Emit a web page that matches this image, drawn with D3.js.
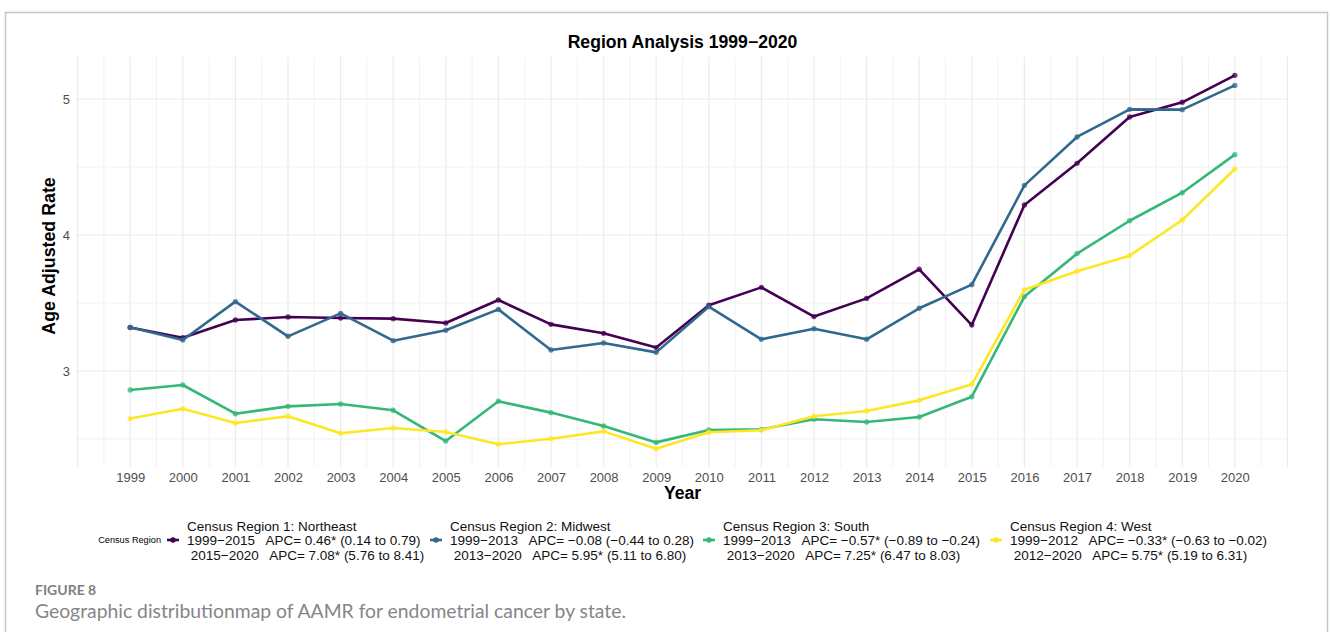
<!DOCTYPE html>
<html>
<head>
<meta charset="utf-8">
<script src="https://cdn.jsdelivr.net/npm/d3@7"></script>
<style>
  body { margin: 0; background: #fff; }
  svg { display: block; }
  text { font-family: "Liberation Sans", Arial, sans-serif; }
</style>
</head>
<body>
<div class="chart-container"></div>
<script>
// data
const years = [1999, 2000, 2001, 2002, 2003, 2004, 2005, 2006, 2007, 2008, 2009, 2010,
  2011, 2012, 2013, 2014, 2015, 2016, 2017, 2018, 2019, 2020]
const northeast = [3.32, 3.245, 3.375, 3.397, 3.39, 3.385, 3.353, 3.522, 3.343, 3.277, 3.172,
  3.483, 3.615, 3.40, 3.534, 3.748, 3.338, 4.221, 4.527, 4.868, 4.976, 5.174]
const midwest = [3.321, 3.228, 3.51, 3.255, 3.424, 3.223, 3.30, 3.453, 3.154, 3.206, 3.137,
  3.473, 3.233, 3.311, 3.233, 3.461, 3.635, 4.365, 4.721, 4.924, 4.922, 5.10]
const south = [2.86, 2.897, 2.686, 2.74, 2.757, 2.711, 2.485, 2.777, 2.694, 2.596, 2.475,
  2.566, 2.571, 2.645, 2.625, 2.662, 2.811, 3.547, 3.863, 4.105, 4.311, 4.591]
const west = [2.65, 2.723, 2.618, 2.667, 2.542, 2.581, 2.551, 2.461, 2.502, 2.556, 2.429,
  2.549, 2.564, 2.667, 2.706, 2.784, 2.902, 3.598, 3.733, 3.848, 4.11, 4.485]
const yTicks = [3, 4, 5]
const seriesNames = ["Census Region 1: Northeast", "Census Region 2: Midwest",
  "Census Region 3: South", "Census Region 4: West"]
const apcFirst = ["1999\u22122015   APC= 0.46* (0.14 to 0.79)",
  "1999\u22122013   APC= \u22120.08 (\u22120.44 to 0.28)",
  "1999\u22122013   APC= \u22120.57* (\u22120.89 to \u22120.24)",
  "1999\u22122012   APC= \u22120.33* (\u22120.63 to \u22120.02)"]
const apcSecond = [" 2015\u22122020   APC= 7.08* (5.76 to 8.41)",
  " 2013\u22122020   APC= 5.95* (5.11 to 6.80)",
  " 2013\u22122020   APC= 7.25* (6.47 to 8.03)",
  " 2012\u22122020   APC= 5.75* (5.19 to 6.31)"]
const colormap = ["#440154", "#31688E", "#35B779", "#FDE725"]

const w = 1330
const h = 632
const panel = { left: 76, right: 1289, top: 57, bottom: 467 }

const series = [northeast, midwest, south, west].map((vals, i) => ({
  name: seriesNames[i],
  color: colormap[i],
  values: vals.map((v, j) => ({ year: years[j], rate: v }))
}))

const svg = d3.select(".chart-container")
  .append("svg")
  .attr("width", w)
  .attr("height", h)

// outer frame of the figure box
svg.append("path")
  .attr("d", "M5.5,640 V12.5 H1327.5 V640")
  .attr("fill", "none")
  .attr("stroke", "#c4c6ca")
  .attr("stroke-width", 1.5)

const x = d3.scaleLinear()
  .domain([1997.97, 2021.03])
  .range([panel.left, panel.right])

const y = d3.scaleLinear()
  .domain([2.294, 5.309])
  .range([panel.bottom, panel.top])

// grid: majors at whole units, minors halfway between
const grid = svg.append("g").attr("class", "grid")
const xMinor = d3.range(1998.5, 2021, 1)
const xMajor = d3.range(1998, 2021.5, 1)
const yMinor = [2.5, 3.5, 4.5]

grid.selectAll(".vminor").data(xMinor).enter().append("line")
  .attr("x1", d => x(d)).attr("x2", d => x(d))
  .attr("y1", panel.top).attr("y2", panel.bottom)
  .attr("stroke", "#efefef").attr("stroke-width", 0.8)
grid.selectAll(".hminor").data(yMinor).enter().append("line")
  .attr("x1", panel.left).attr("x2", panel.right)
  .attr("y1", d => y(d)).attr("y2", d => y(d))
  .attr("stroke", "#efefef").attr("stroke-width", 0.8)
grid.selectAll(".vmajor").data(xMajor).enter().append("line")
  .attr("x1", d => x(d)).attr("x2", d => x(d))
  .attr("y1", panel.top).attr("y2", panel.bottom)
  .attr("stroke", "#ebebeb").attr("stroke-width", 1.2)
grid.selectAll(".hmajor").data(yTicks).enter().append("line")
  .attr("x1", panel.left).attr("x2", panel.right)
  .attr("y1", d => y(d)).attr("y2", d => y(d))
  .attr("stroke", "#ebebeb").attr("stroke-width", 1.2)

// axes (no domain line, no ticks)
const xAxis = d3.axisBottom(x).tickValues(years).tickFormat(d3.format("d")).tickSize(0).tickPadding(6)
const yAxis = d3.axisLeft(y).tickValues(yTicks).tickFormat(d3.format("d")).tickSize(0).tickPadding(6)

const gx = svg.append("g")
  .attr("transform", "translate(0," + panel.bottom + ")")
  .call(xAxis)
const gy = svg.append("g")
  .attr("transform", "translate(" + panel.left + ",0)")
  .call(yAxis)

;[gx, gy].forEach(g => {
  g.select(".domain").remove()
  g.selectAll("text")
    .attr("fill", "#4d4d4d")
    .style("font-size", "13px")
    .style("font-family", "'Liberation Sans', Arial, sans-serif")
})

// lines + points
const line = d3.line()
  .x(d => x(d.year))
  .y(d => y(d.rate))

const sg = svg.append("g").selectAll("g")
  .data(series)
  .enter()
  .append("g")

sg.append("path")
  .attr("d", d => line(d.values))
  .attr("fill", "none")
  .attr("stroke", d => d.color)
  .attr("stroke-width", 2.6)
  .attr("stroke-linejoin", "round")

sg.selectAll("circle")
  .data(d => d.values.map(v => ({ ...v, color: d.color })))
  .enter()
  .append("circle")
  .attr("cx", d => x(d.year))
  .attr("cy", d => y(d.rate))
  .attr("r", 2.7)
  .attr("fill", d => d.color)
  .attr("opacity", 0.75)

// titles
svg.append("text")
  .attr("x", (panel.left + panel.right) / 2)
  .attr("y", 48)
  .attr("text-anchor", "middle")
  .style("font-size", "17.6px")
  .style("font-weight", "bold")
  .text("Region Analysis 1999\u22122020")

svg.append("text")
  .attr("x", (panel.left + panel.right) / 2)
  .attr("y", 499)
  .attr("text-anchor", "middle")
  .style("font-size", "17.6px")
  .style("font-weight", "bold")
  .text("Year")

svg.append("text")
  .attr("transform", "translate(55,256) rotate(-90)")
  .attr("text-anchor", "middle")
  .style("font-size", "17.8px")
  .style("font-weight", "bold")
  .text("Age Adjusted Rate")

// legend
const legendX = [187, 450, 723, 1010]
const legend = svg.append("g").attr("id", "legend")

legend.append("text")
  .attr("x", 161)
  .attr("y", 543)
  .attr("text-anchor", "end")
  .style("font-size", "9.2px")
  .text("Census Region")

const items = legend.selectAll(".item")
  .data(series)
  .enter()
  .append("g")
  .attr("class", "item")
  .attr("transform", (d, i) => "translate(" + legendX[i] + ",0)")

items.append("line")
  .attr("x1", -20).attr("x2", -8)
  .attr("y1", 540).attr("y2", 540)
  .attr("stroke", d => d.color)
  .attr("stroke-width", 2.6)
items.append("circle")
  .attr("cx", -14).attr("cy", 540)
  .attr("r", 2.7)
  .attr("fill", d => d.color)

items.each(function (d, i) {
  const t = d3.select(this).append("text")
    .style("font-size", "13.5px")
    .attr("fill", "#111")
    .attr("xml:space", "preserve")
    .style("white-space", "pre")
  t.append("tspan").attr("x", 0).attr("y", 530.5).text(d.name)
  t.append("tspan").attr("x", 0).attr("y", 545).text(apcFirst[i])
  t.append("tspan").attr("x", 0).attr("y", 559.5).text(apcSecond[i])
})

// figure caption
svg.append("text")
  .attr("x", 35)
  .attr("y", 595)
  .attr("fill", "#7d7f82")
  .style("font-family", "Lato, 'Open Sans', sans-serif")
  .style("font-weight", "bold")
  .style("font-size", "14px")
  .text("FIGURE 8")

svg.append("text")
  .attr("x", 35)
  .attr("y", 618)
  .attr("fill", "#84868a")
  .style("font-family", "Lato, 'Open Sans', sans-serif")
  .style("font-size", "19.5px")
  .attr("textLength", 591)
  .attr("lengthAdjust", "spacingAndGlyphs")
  .text("Geographic distributionmap of AAMR for endometrial cancer by state.")
</script>
</body>
</html>
